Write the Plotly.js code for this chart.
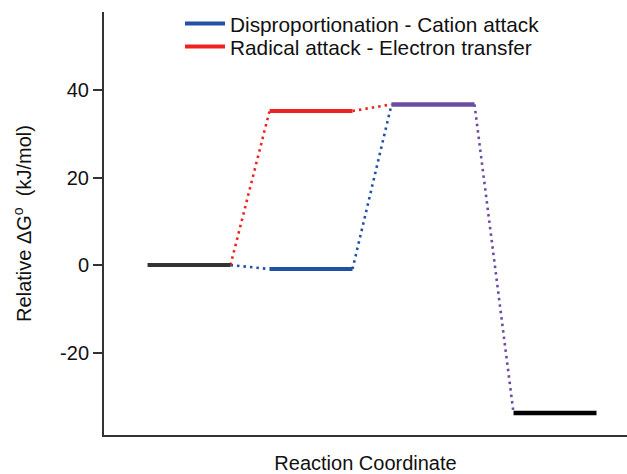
<!DOCTYPE html>
<html>
<head>
<meta charset="utf-8">
<script src="https://cdn.plot.ly/plotly-3.0.1.min.js"></script>
<style>html,body{margin:0;padding:0;background:#fff;}#chart{width:627px;height:474px;}</style>
</head>
<body>
<div id="chart"></div>
<script>
// Stage positions along reaction coordinate
const stages = [1, 2, 3, 4];
// Relative ΔG (kJ/mol) per stage for each pathway
const cationEnergies = [0, -0.9, 36.7, -33.8];
const radicalEnergies = [0, 35.2, 36.7, -33.8];
const seriesNames = ['Disproportionation - Cation attack', 'Radical attack - Electron transfer'];
const yTickVals = [-20, 0, 20, 40];
const yTickText = ['-20', '0', '20', '40'];

const halfW = 0.34;
const BLUE = '#2150a5', RED = '#ee2222', PURPLE = '#6a4ca3';
const traces = [];

function level(s, e, color, w) {
  traces.push({x: [s - halfW, s + halfW], y: [e, e], mode: 'lines', showlegend: false,
    line: {color: color, width: w}, hoverinfo: 'skip'});
}
function conn(s1, e1, s2, e2, color) {
  traces.push({x: [s1 + halfW, s2 - halfW], y: [e1, e2], mode: 'lines', showlegend: false,
    line: {color: color, width: 2.6, dash: '2.5px,4px'}, hoverinfo: 'skip'});
}
// connectors
conn(stages[0], cationEnergies[0], stages[1], cationEnergies[1], BLUE);
conn(stages[0], radicalEnergies[0], stages[1], radicalEnergies[1], RED);
conn(stages[1], cationEnergies[1], stages[2], cationEnergies[2], BLUE);
conn(stages[1], radicalEnergies[1], stages[2], radicalEnergies[2], RED);
conn(stages[2], cationEnergies[2], stages[3], cationEnergies[3], PURPLE);
// levels
level(stages[0], cationEnergies[0], '#333333', 4);
level(stages[1], cationEnergies[1], BLUE, 4);
level(stages[1], radicalEnergies[1], RED, 4);
level(stages[2], cationEnergies[2], PURPLE, 4.5);
level(stages[3], cationEnergies[3], '#000000', 4.5);
// legend entries
traces.push({x: [null], y: [null], mode: 'lines', name: seriesNames[0], legend: 'legend', line: {color: BLUE, width: 4}});
traces.push({x: [null], y: [null], mode: 'lines', name: seriesNames[1], legend: 'legend2', line: {color: RED, width: 4}});

const FAM = 'Liberation Sans, Arial, sans-serif';
const TXT = '#111';
const legBase = {xanchor: 'left', yanchor: 'middle', bgcolor: 'rgba(0,0,0,0)', itemwidth: 40,
  font: {family: FAM, size: 20.8, color: TXT}};
const layout = {
  width: 627, height: 474,
  margin: {l: 104, r: 0, t: 12, b: 39},
  paper_bgcolor: '#fff', plot_bgcolor: '#fff',
  font: {family: FAM, size: 20, color: TXT},
  showlegend: true,
  legend: Object.assign({x: 0.1453, y: 0.9716}, legBase),
  legend2: Object.assign({x: 0.1453, y: 0.9173}, legBase),
  xaxis: {range: [0.303, 4.59], showticklabels: false, ticks: '', showgrid: false, zeroline: false,
    showline: true, linecolor: '#333', linewidth: 2,
    title: {text: 'Reaction Coordinate', font: {family: FAM, size: 20, color: TXT}, standoff: 29}},
  yaxis: {range: [-38.8, 57.8], tickmode: 'array', tickvals: yTickVals, ticktext: yTickText,
    ticks: 'outside', ticklen: 9, tickwidth: 2, tickcolor: '#333',
    showgrid: false, zeroline: false, showline: true, linecolor: '#333', linewidth: 2,
    tickfont: {family: FAM, size: 20, color: TXT},
    title: {text: 'Relative ΔG<sup>o</sup>  (kJ/mol)', font: {family: FAM, size: 20, color: TXT}, standoff: 23}}
};
Plotly.newPlot('chart', traces, layout, {displayModeBar: false, staticPlot: true});
</script>
</body>
</html>
